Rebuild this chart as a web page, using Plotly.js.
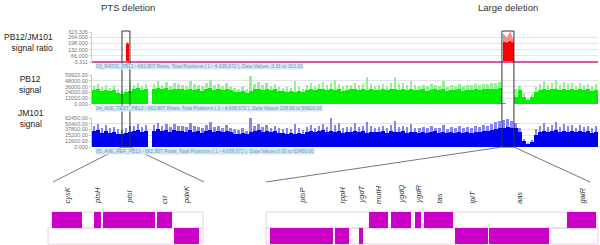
<!DOCTYPE html>
<html><head><meta charset="utf-8">
<script src="https://cdn.plot.ly/plotly-3.0.1.min.js"></script>
<style>html,body{margin:0;padding:0;background:#fff}#chart{width:600px;height:245px}</style>
</head><body><div id="chart"></div>
<script>
// ---------- data ----------
const GENOME_LEN = 4639672;

// signal ratio (PB12/JM101): only the two elevated regions, rest sits at the minimum
const ratioPos  = [311800, 321000, 330100,
  3768600, 3777800, 3786900, 3796100, 3805300, 3814400, 3823600, 3832800, 3841900, 3851100, 3860300];
const ratioCore = [190, 205, 195, 215, 220, 210, 205, 215, 220, 225, 230, 220, 210, 205];
const ratioPeak = [200, 218, 205, 300, 295, 280, 270, 285, 300, 310, 323, 290, 270, 250];
const ratioMin  = -3.311;

// PB12 signal, 126 equal genome bins (values in thousands)
const pb12Core = [28,30,27,29,26,28,22,20,24,27, 30,33,29,31,0,31,34,30,33,29, 32,30,30,28,32,29,31,27,30,33,
  28,30,29,31,28,25,24,26,23,27, 30,32,29,31,28,30,27,26,25,27, 24,26,25,29,31,28,30,32,29,31,
  28,30,27,29,30,32,29,31,28,30, 29,29,31,28,32,30,29,31,28,30, 29,28,30,27,29,31,28,30,27,29,
  28,30,27,29,28,30,29,31,30,32, 31,33,2,1,1,14,28,15,8,14, 24,29,31,28,30,32,29,31,28,30, 29,31,28,30,27,29];
const pb12Peak = [38,42,35,40,34,37,30,28,30,46, 40,44,38,41,0,42,47,40,45,38, 44,42,40,38,48,42,39,37,44,50,
  39,41,38,43,36,33,31,35,30,58, 42,45,40,44,38,41,36,34,36,33, 48,35,32,40,43,38,42,45,39,44,
  50,41,37,40,40,44,39,42,55,41, 38,40,42,38,44,55,41,43,40,48, 39,38,40,37,41,39,38,47,36,40,
  38,41,37,40,39,42,40,42,41,44, 43,46,2,1,1,30,38,22,12,20, 36,42,48,40,44,50,39,45,41,43, 38,44,40,42,38,41];

// JM101 signal, same bins (values in thousands)
const jm101Core = [34,36,31,35,30,33,29,28,30,33, 34,37,33,35,0,35,38,34,37,33, 36,34,34,32,36,33,35,31,34,37,
  32,34,33,35,32,29,28,30,27,32, 34,36,33,35,32,34,31,30,29,31, 28,30,29,33,35,32,34,36,33,35,
  32,34,31,33,33,35,32,34,31,33, 32,32,34,31,35,33,32,34,31,33, 32,31,33,30,32,34,31,33,30,32,
  31,33,30,32,31,33,33,35,34,36, 38,40,42,44,41,40,32,12,6,10, 26,33,35,32,34,36,33,35,32,34, 33,35,32,34,31,33];
const jm101Peak = [46,50,42,48,40,44,38,36,40,45, 46,50,44,47,0,47,52,45,50,44, 49,46,45,43,52,46,44,41,48,54,
  43,46,42,47,40,38,36,40,35,62, 46,49,44,48,42,45,40,39,41,38, 50,40,37,44,47,42,46,49,43,62,
  48,52,41,44,44,52,43,46,54,45, 42,43,45,41,47,57,44,46,43,49, 42,41,44,40,45,42,41,48,39,44,
  41,45,40,43,42,46,44,47,46,50, 54,56,58,60,55,52,40,18,9,16, 38,46,52,44,48,53,43,49,45,47, 42,48,44,46,41,45];

const pb12Ticks  = [0, 12000, 24000, 36000, 48000, 59920];
const pb12TickText  = ['0.000','12000.00','24000.00','36000.00','48000.00','59920.00'];
const jm101Ticks = [0, 12600, 25200, 37800, 50400, 62450];
const jm101TickText = ['0.000','12600.00','25200.00','37800.00','50400.00','62450.00'];
const ratioTicks = [-3.311, 66, 132, 198, 264, 323.326];
const ratioTickText = ['-3.311','66.000','132.000','198.000','264.000','323.326'];

const ptsRegion   = [275000, 348000];
const largeRegion = [3759000, 3869000];

// gene maps (bp within each zoomed window; row 1 = upper row, row 2 = lower row)
const leftGenes  = ['cysK','ptsH','ptsI','crr','pdxK'];
const leftStart  = [400, 4600, 5500, 10900, 12600];
const leftEnd    = [3400, 5300, 10700, 12400, 15100];
const leftRow    = [1, 1, 1, 1, 2];
const LEFT_WIN   = 15600;

const rightGenes = ['ptsP','rppH','ygdT','mutH','ygdQ','ygdR','tas','lplT','aas','galR'];
const rightStart = [400, 6900, 9300, 10300, 12500, 14900, 15800, 18900, 22300, 30100];
const rightEnd   = [6700, 8300, 9700, 12200, 14500, 15500, 18700, 22200, 28300, 33000];
const rightRow   = [2, 2, 2, 1, 1, 1, 1, 2, 2, 1];
const RIGHT_WIN  = 33200;

// ---------- helpers ----------
const W = 600, H = 245;
const px = p => p / W;
const py = p => 1 - p / H;
const K = v => v * 1000;
const TRACK_L = 92, TRACK_R = 598;
const bp2paper = b => px(TRACK_L) + (b / GENOME_LEN) * (TRACK_R - TRACK_L) / W;

const BIN = GENOME_LEN / pb12Core.length;
const binX = pb12Core.map((_, i) => (i + 0.5) * BIN);

const FONT = 'Liberation Sans, Arial, sans-serif';
const tickFont = {family: FONT, size: 5.5, color: '#777'};

function trackAxis(top, bottom, range, tv, tt, lineColor) {
  return {
    domain: [py(bottom), py(top)], range: range, anchor: 'x',
    tickmode: 'array', tickvals: tv, ticktext: tt, tickfont: tickFont,
    showgrid: true, gridcolor: '#e4e4e4', gridwidth: 1, zeroline: false,
    showline: true, linecolor: lineColor, linewidth: 1,
    ticks: 'outside', ticklen: 2, tickcolor: lineColor, fixedrange: true
  };
}

const traces = [
  {type: 'bar', x: ratioPos, y: ratioPeak.map(v => v - ratioMin), width: 9170, xaxis: 'x', yaxis: 'y', base: ratioMin,
   marker: {color: '#ff8a8a', line: {width: 0}}},
  {type: 'bar', x: ratioPos, y: ratioCore.map(v => v - ratioMin), width: 9170, xaxis: 'x', yaxis: 'y', base: ratioMin,
   marker: {color: '#ff0000', line: {width: 0}}},
  {type: 'scatter', mode: 'lines', x: [0, GENOME_LEN], y: [ratioMin, ratioMin], xaxis: 'x', yaxis: 'y',
   line: {color: '#e2559a', width: 2}, cliponaxis: false, hoverinfo: 'skip'},
  {type: 'bar', x: binX, y: pb12Peak.map(K), width: BIN * 0.6, xaxis: 'x', yaxis: 'y2',
   marker: {color: '#8ef58e', line: {width: 0}}},
  {type: 'bar', x: binX, y: pb12Core.map(K), width: BIN, xaxis: 'x', yaxis: 'y2',
   marker: {color: '#00f000', line: {width: 0}}},
  {type: 'bar', x: binX, y: jm101Peak.map(K), width: BIN * 0.6, xaxis: 'x', yaxis: 'y3',
   marker: {color: '#8585f6', line: {width: 0}}},
  {type: 'bar', x: binX, y: jm101Core.map(K), width: BIN, xaxis: 'x', yaxis: 'y3',
   marker: {color: '#0000f0', line: {width: 0}}},
  {type: 'bar', orientation: 'h', base: leftStart, x: leftEnd.map((e, i) => e - leftStart[i]),
   y: leftRow, width: 0.97, xaxis: 'x2', yaxis: 'y4', marker: {color: '#cc00c8', line: {width: 0}}},
  {type: 'bar', orientation: 'h', base: rightStart, x: rightEnd.map((e, i) => e - rightStart[i]),
   y: rightRow, width: 0.97, xaxis: 'x3', yaxis: 'y5', marker: {color: '#cc00c8', line: {width: 0}}}
];

const annotations = [];
function txt(t, x, y, opts) {
  annotations.push(Object.assign({text: t, x: x, y: y, xref: 'paper', yref: 'paper', showarrow: false,
    xanchor: 'center', yanchor: 'middle',
    font: {family: FONT, size: 8.5, color: '#222'}}, opts || {}));
}
txt('PTS deletion', px(128), py(7.5), {font: {family: FONT, size: 9.5, color: '#333'}});
txt('Large deletion', px(508), py(7.5), {font: {family: FONT, size: 9.5, color: '#333'}});
txt('PB12/JM101<br>signal ratio', px(55), py(42), {xanchor: 'right', align: 'right'});
txt('PB12<br>signal', px(30), py(85), {align: 'center'});
txt('JM101<br>signal', px(31), py(118), {align: 'center'});

const barFont = {family: FONT, size: 4.9, color: '#6d9ac0'};
[['03_RATIO_PB12 - 662,807 Rows, Total Positions ( 1 - 4,639,672 ), Data Values -3.31 to 323.33', 66],
 ['04_AVE_TEST_PB12 - 662,807 Rows, Total Positions ( 1 - 4,639,672 ), Data Values 208.00 to 59920.00', 108.5],
 ['05_AVE_REF_PB12 - 662,807 Rows, Total Positions ( 1 - 4,639,672 ), Data Values 0.00 to 62450.00', 151]
].forEach(([t, y]) => txt(t, px(95), py(y), {xanchor: 'left', font: barFont, bgcolor: '#d3e9f6', borderpad: 0}));

function geneLabels(names, starts, ends, xref) {
  names.forEach((g, i) => annotations.push({
    text: g, x: (starts[i] + ends[i]) / 2, y: py(206), xref: xref, yref: 'paper',
    xanchor: 'center', yanchor: 'bottom', textangle: -90, showarrow: false,
    font: {family: FONT, size: 7.5, color: '#333', style: 'italic'}
  }));
}
geneLabels(leftGenes, leftStart, leftEnd, 'x2');
geneLabels(rightGenes, rightStart, rightEnd, 'x3');

const boxLine = {color: '#333', width: 1};
const connLine = {color: '#777', width: 1};
const rowLine = {color: '#ead0ea', width: 1};
const shapes = [
  {type: 'rect', xref: 'x', yref: 'paper', x0: ptsRegion[0], x1: ptsRegion[1], y0: py(147), y1: py(31), line: boxLine},
  {type: 'rect', xref: 'x', yref: 'paper', x0: largeRegion[0], x1: largeRegion[1], y0: py(147), y1: py(31), line: boxLine},
  {type: 'line', xref: 'paper', yref: 'paper', x0: bp2paper(ptsRegion[0]), y0: py(147), x1: px(53), y1: py(182), line: connLine},
  {type: 'line', xref: 'paper', yref: 'paper', x0: bp2paper(ptsRegion[1]), y0: py(147), x1: px(204), y1: py(182), line: connLine},
  {type: 'line', xref: 'paper', yref: 'paper', x0: bp2paper(largeRegion[0]), y0: py(147), x1: px(266), y1: py(182), line: connLine},
  {type: 'line', xref: 'paper', yref: 'paper', x0: bp2paper(largeRegion[1]), y0: py(147), x1: px(590), y1: py(182), line: connLine},
  {type: 'rect', xref: 'paper', yref: 'paper', x0: px(52), x1: px(203), y0: py(228), y1: py(212), line: rowLine, layer: 'below'},
  {type: 'rect', xref: 'paper', yref: 'paper', x0: px(48), x1: px(203), y0: py(244), y1: py(228), line: rowLine, layer: 'below'},
  {type: 'rect', xref: 'paper', yref: 'paper', x0: px(266), x1: px(597), y0: py(228), y1: py(212), line: rowLine, layer: 'below'},
  {type: 'rect', xref: 'paper', yref: 'paper', x0: px(266), x1: px(598), y0: py(244), y1: py(228), line: rowLine, layer: 'below'}
];

const hidden = {showgrid: false, zeroline: false, showticklabels: false, showline: false, ticks: '', fixedrange: true};

const layout = {
  width: W, height: H, margin: {l: 0, r: 0, t: 0, b: 0},
  paper_bgcolor: '#fff', plot_bgcolor: 'rgba(0,0,0,0)',
  showlegend: false, barmode: 'overlay', bargap: 0,
  xaxis: Object.assign({domain: [px(TRACK_L), px(TRACK_R)], range: [0, GENOME_LEN], anchor: 'y'}, hidden),
  yaxis: trackAxis(32, 63, [ratioMin - 10, 323.326], ratioTicks, ratioTickText, '#b9d6ee'),
  yaxis2: trackAxis(75, 104, [0, 59920], pb12Ticks, pb12TickText, '#9de59d'),
  yaxis3: trackAxis(118, 147, [0, 62450], jm101Ticks, jm101TickText, '#9de59d'),
  xaxis2: Object.assign({domain: [px(48), px(204)], range: [0, LEFT_WIN], anchor: 'y4'}, hidden),
  yaxis4: Object.assign({domain: [py(244), py(212)], range: [2.5, 0.5], anchor: 'x2'}, hidden),
  xaxis3: Object.assign({domain: [px(266), px(598)], range: [0, RIGHT_WIN], anchor: 'y5'}, hidden),
  yaxis5: Object.assign({domain: [py(244), py(212)], range: [2.5, 0.5], anchor: 'x3'}, hidden),
  annotations: annotations, shapes: shapes
};

Plotly.newPlot('chart', traces, layout, {staticPlot: true, displayModeBar: false});
</script></body></html>
